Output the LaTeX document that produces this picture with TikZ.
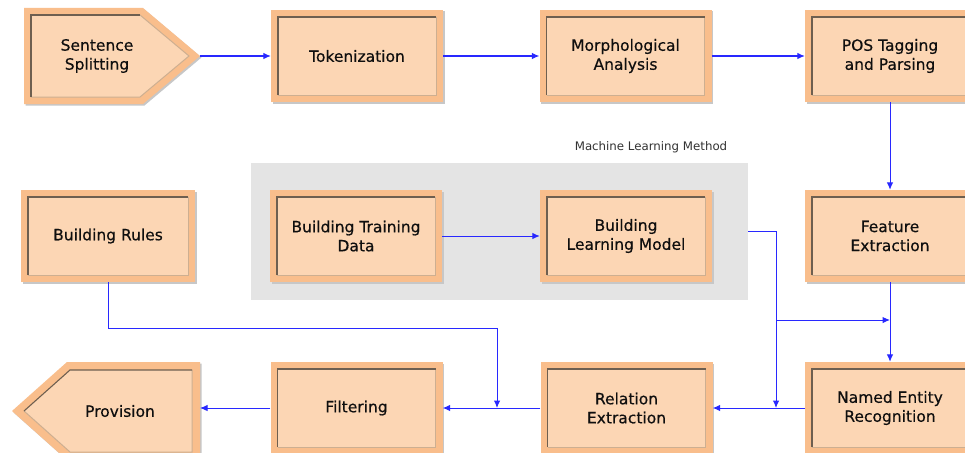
\documentclass[tikz,border=0pt]{standalone}
\usepackage{fontspec}
\setmainfont{DejaVu Sans}
\newfontfamily\boxfont{DejaVu Sans}[FakeBold=0.4]
\usetikzlibrary{arrows.meta,calc,shadows}
\definecolor{outc}{RGB}{249,190,140}
\definecolor{inc}{RGB}{252,214,180}
\definecolor{darkl}{RGB}{110,95,80}
\definecolor{lightl}{RGB}{205,175,145}
\definecolor{linec}{RGB}{40,40,255}
\definecolor{grayb}{RGB}{228,228,228}
\definecolor{txt}{RGB}{15,15,15}
\tikzset{
 procbox/.style={minimum width=172pt, minimum height=92pt, inner sep=0pt, fill=outc,
   align=center, text=txt, font=\boxfont\fontsize{15.5}{19}\selectfont,
   drop shadow={shadow xshift=1.5pt, shadow yshift=-1.5pt, fill=black!22, opacity=1},
   path picture={
    \fill[inc] ([xshift=7pt,yshift=7pt]path picture bounding box.south west) rectangle ([xshift=-7pt,yshift=-7pt]path picture bounding box.north east);
    \draw[lightl,line width=1pt] ([xshift=7pt,yshift=7pt]path picture bounding box.south west) -| ([xshift=-7pt,yshift=-7pt]path picture bounding box.north east);
    \draw[darkl,line width=1.1pt] ([xshift=7pt,yshift=7pt]path picture bounding box.south west) |- ([xshift=-7pt,yshift=-7pt]path picture bounding box.north east);
   }},
 lbl/.style={align=center, text=txt, font=\boxfont\fontsize{15.5}{19}\selectfont, inner sep=0pt},
 arr/.style={draw=linec, line width=1pt, -{Latex[length=7.5pt,width=6.5pt]}},
}
\begin{document}
\begin{tikzpicture}[x=1pt,y=-1pt]
\path[use as bounding box, clip] (0,0) rectangle (965,452);
\fill[white] (0,0) rectangle (965,452);

% machine learning group
\node[fill=grayb, minimum width=497pt, minimum height=137pt, inner sep=0pt] (ml) at (499.5,231.5) {};
\node[font=\fontsize{11.8}{13}\selectfont, text=black!80, inner sep=0pt] (mllbl) at (651,147) {Machine Learning Method};

% Sentence Splitting pentagon
\fill[black!22] (25.5,9.5) -- (144.5,9.5) -- (201.5,57.5) -- (144.5,105.5) -- (25.5,105.5) -- cycle;
\fill[outc] (24,8) -- (143,8) -- (200,56) -- (143,104) -- (24,104) -- cycle;
\fill[inc] (31,15) -- (140,15) -- (189,56) -- (140,97) -- (31,97) -- cycle;
\draw[lightl,line width=1pt] (140,15) -- (189,56) -- (140,97) -- (31,97);
\draw[darkl,line width=1.1pt] (31,97) -- (31,15) -- (140,15);
\node[lbl] (ss) at (97,56) {Sentence\\Splitting};
\coordinate (sstip) at (200,56);

% Provision pentagon
\fill[black!22] (201.5,363.5) -- (68.5,363.5) -- (13.5,412.5) -- (68.5,461.5) -- (201.5,461.5) -- cycle;
\fill[outc] (200,362) -- (67,362) -- (12,411) -- (67,460) -- (200,460) -- cycle;
\fill[inc] (192,370) -- (70,370) -- (24,411) -- (70,452) -- (192,452) -- cycle;
\draw[lightl,line width=1pt] (24,411) -- (70,452) -- (192,452) -- (192,370);
\draw[darkl,line width=1.1pt] (192,370) -- (70,370) -- (24,411);
\node[lbl] (prov) at (120,411) {Provision};
\coordinate (provR) at (200,408);

% boxes
\node[procbox] (tok)   at (357,56)   {Tokenization};
\node[procbox] (morph) at (625.5,56) {Morphological\\Analysis};
\node[procbox, minimum width=170pt] (pos) at (890,56) {POS Tagging\\and Parsing};
\node[procbox, minimum width=174pt] (rules) at (108,236) {Building Rules};
\node[procbox] (btd)   at (356,236)  {Building Training\\Data};
\node[procbox] (blm)   at (626,236)  {Building\\Learning Model};
\node[procbox, minimum width=170pt] (feat) at (890,236) {Feature\\Extraction};
\node[procbox] (filt)  at (356.5,408) {Filtering};
\node[procbox] (rel)   at (626.5,408) {Relation\\Extraction};
\node[procbox, minimum width=170pt] (ner) at (890,408) {Named Entity\\Recognition};

% junction coordinates
\coordinate (j1) at (776,320);
\coordinate (j1e) at (890,320);
\coordinate (j2) at (776,408);
\coordinate (r1) at (497,328);
\coordinate (r2) at (497,408);

% connectors
\draw[arr] (sstip) -- (tok.west);
\draw[arr] (tok.east) -- (morph.west);
\draw[arr] (morph.east) -- (pos.west);
\draw[arr] (pos.south) -- (feat.north);
\draw[arr] (feat.south) -- (ner.north);
\draw[arr] (btd.east) -- (blm.west);
\draw[arr] (ml.east) -| (j1) -- (j1e);
\draw[arr] (j1) -- (j2);
\draw[arr] (ner.west) -- (rel.east);
\draw[arr] (rel.west) -- (filt.east);
\draw[arr] (rules.south) |- (r1) -- (r2);
\draw[arr] (filt.west) -- (provR);
\end{tikzpicture}
\end{document}
